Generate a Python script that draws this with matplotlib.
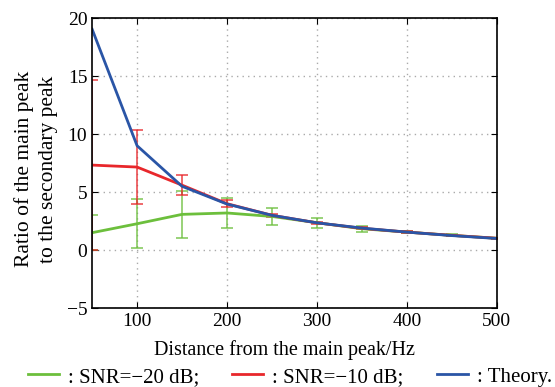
import matplotlib.pyplot as plt
import numpy as np

plt.rcParams['font.family'] = ['Liberation Serif', 'DejaVu Serif']

distance = [50, 100, 150, 200, 250, 300, 350, 400, 450, 500]

snr20_mean = [1.5, 2.27, 3.08, 3.2, 2.9, 2.36, 1.84, 1.55, 1.27, 1.02]
snr20_err = [1.5, 2.1, 2.0, 1.26, 0.7, 0.42, 0.25, 0.12, 0.08, 0.05]

snr10_mean = [7.33, 7.16, 5.6, 4.0, 3.0, 2.35, 1.88, 1.55, 1.27, 1.02]
snr10_err = [7.35, 3.2, 0.85, 0.3, 0.15, 0.1, 0.08, 0.06, 0.05, 0.04]

theory = [19.05, 9.0, 5.5, 3.97, 3.0, 2.35, 1.9, 1.55, 1.25, 1.0]

labels = [': SNR=\u221220 dB;', ': SNR=\u221210 dB;', ': Theory.']

green = '#6cbf3c'
red = '#e8272b'
blue = '#2a55a6'

fig = plt.figure(figsize=(5.55, 3.87), dpi=100)
ax = fig.add_axes([0.166, 0.204, 0.729, 0.749])

ax.errorbar(distance, snr20_mean, yerr=snr20_err, color=green, lw=0, elinewidth=1.3,
            capsize=4, capthick=1.3, alpha=0.75)
ax.errorbar(distance, snr10_mean, yerr=snr10_err, color=red, lw=0, elinewidth=1.3,
            capsize=4, capthick=1.3, alpha=0.75)
l1, = ax.plot(distance, snr20_mean, color=green, lw=2)
l2, = ax.plot(distance, snr10_mean, color=red, lw=2)
l3, = ax.plot(distance, theory, color=blue, lw=2)

ax.set_xlim(50, 500)
ax.set_ylim(-5, 20)
ax.set_xticks([100, 200, 300, 400, 500])
ax.set_yticks([-5, 0, 5, 10, 15, 20])
ax.set_yticklabels(['\u22125', '0', '5', '10', '15', '20'])
ax.tick_params(direction='in', top=True, right=True, labelsize=14, length=4)
ax.grid(True, linestyle=(0, (1, 3)), color='#aaaaaa', lw=1)
for s in ax.spines.values():
    s.set_linewidth(1.2)

ax.set_xlabel('Distance from the main peak/Hz', fontsize=14.5)
ax.xaxis.set_label_coords(0.475, -0.109)
ax.set_ylabel('Ratio of the main peak\nto the secondary peak', fontsize=15.5,
              linespacing=1.35)
ax.yaxis.set_label_coords(-0.085, 0.48)

# legend entries below the axes, spaced like the original
for h, lab, x0 in zip([l1, l2, l3], labels, [0.0505, 0.418, 0.787]):
    fig.legend([h], [lab], loc='center left', bbox_to_anchor=(x0, 0.026),
               frameon=False, fontsize=15, handlelength=1.5, handletextpad=0.43,
               borderpad=0, borderaxespad=0)

fig.savefig('out.png', dpi=100)
